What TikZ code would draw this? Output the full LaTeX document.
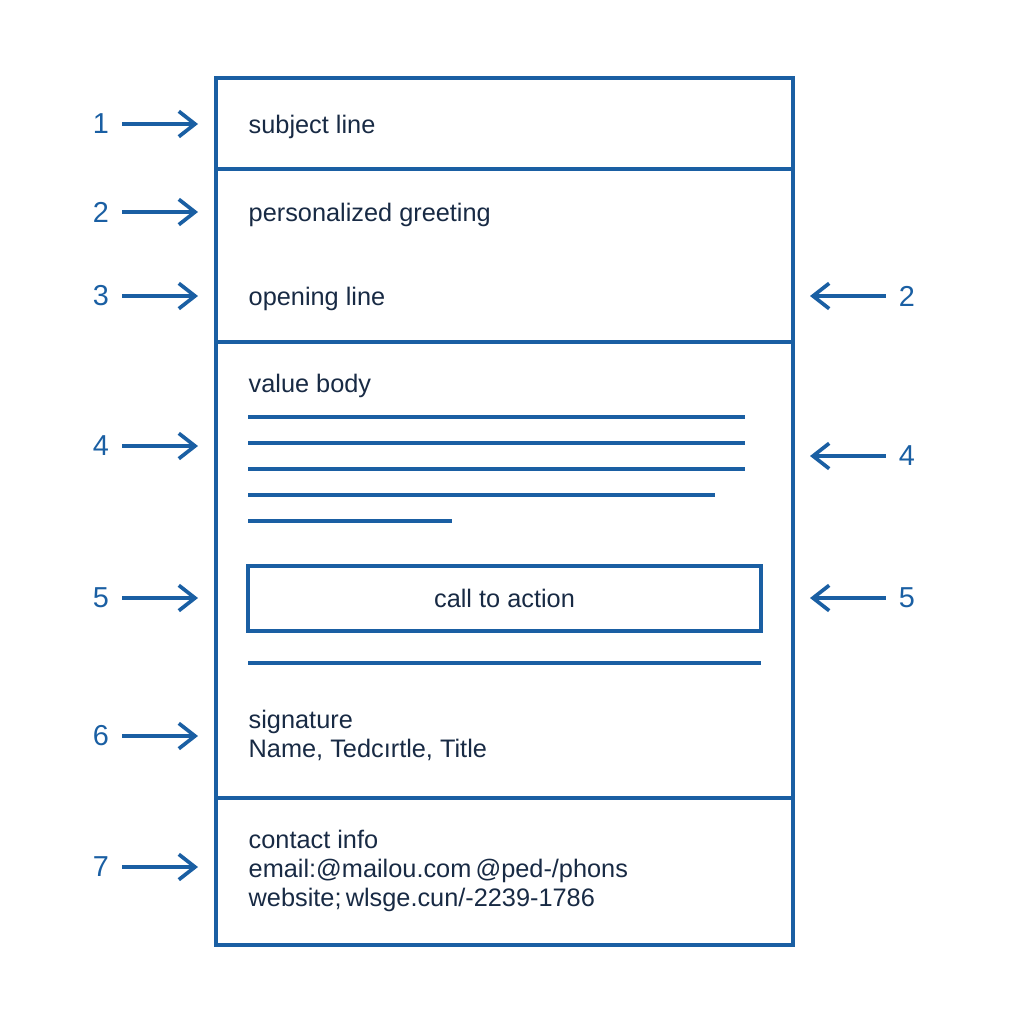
\documentclass[tikz,border=0pt]{standalone}
\usepackage{fontspec}
\setmainfont{Liberation Sans}
\usetikzlibrary{arrows.meta,positioning}
\definecolor{mailBlue}{HTML}{1A5FA3}
\definecolor{mailInk}{HTML}{182A44}

\begin{document}
\begin{tikzpicture}[
x=0.01cm, y=-0.01cm,
every node/.style={font=\fontsize{7.2}{8.25}\selectfont, text=mailInk},
section/.style={draw=mailBlue, line width=1.05pt, minimum width=5.77cm, inner sep=0pt, outer sep=0pt, anchor=north west},
txt/.style={anchor=west, inner sep=0pt, align=left, yshift=-0.025cm},
num/.style={text=mailBlue, font=\fontsize{8.2}{9}\selectfont, inner sep=3.5pt},
arr/.style={-{Straight Barb[length=4.6pt, width=7.2pt]}, mailBlue, line width=1.05pt},
rule/.style={mailBlue, line width=1.05pt}
]
\useasboundingbox (0,0) rectangle (1024,1024);

% email sections
\node[section, minimum height=0.91cm] (subj) at (216,78) {};
\node[section, minimum height=1.73cm] (intro) at (216,169) {};
\node[section, minimum height=4.56cm] (body) at (216,342) {};
\node[section, minimum height=1.47cm] (contact) at (216,798) {};

% section texts
\node[txt] (subjT) at (248,124) {subject line};
\node[txt] (greetT) at (248,212) {personalized greeting};
\node[txt] (openT) at (248,296) {opening line};
\node[txt] (valueT) at (248,383) {value body};
\draw[rule] (248,417) -- (745,417); \draw[rule] (248,443) -- (745,443);
\draw[rule] (248,469) -- (745,469); \draw[rule] (248,495) -- (715,495);
\draw[rule] (248,521) -- (452,521);
\node[draw=mailBlue, line width=1.05pt, minimum width=5.13cm, minimum height=0.65cm, inner sep=0pt] (cta) at (504.5,598.5) {call to action};
\draw[rule] (248,663) -- (761,663);
\node[txt] (sigT) at (248,732.5) {signature\\Name, Tedcırtle, Title};
\node[txt] (contactT) at (248,868) {contact info\\email:@mailou.com\,@ped-/phons\\website;\,wlsge.cun/-2239-1786};

% left markers
\node[num] (L1) at (101,124) {1}; \coordinate (l1) at (198,124); \draw[arr] (L1) -- (l1);
\node[num] (L2) at (101,212) {2}; \coordinate (l2) at (198,212); \draw[arr] (L2) -- (l2);
\node[num] (L3) at (101,296) {3}; \coordinate (l3) at (198,296); \draw[arr] (L3) -- (l3);
\node[num] (L4) at (101,446) {4}; \coordinate (l4) at (198,446); \draw[arr] (L4) -- (l4);
\node[num] (L5) at (101,598) {5}; \coordinate (l5) at (198,598); \draw[arr] (L5) -- (l5);
\node[num] (L6) at (101,736) {6}; \coordinate (l6) at (198,736); \draw[arr] (L6) -- (l6);
\node[num] (L7) at (101,867) {7}; \coordinate (l7) at (198,867); \draw[arr] (L7) -- (l7);

% right markers
\node[num] (R2) at (907,296) {2}; \coordinate (r2) at (810,296); \draw[arr] (R2) -- (r2);
\node[num] (R4) at (907,456) {4}; \coordinate (r4) at (810,456); \draw[arr] (R4) -- (r4);
\node[num] (R5) at (907,598) {5}; \coordinate (r5) at (810,598); \draw[arr] (R5) -- (r5);

\end{tikzpicture}
\end{document}
